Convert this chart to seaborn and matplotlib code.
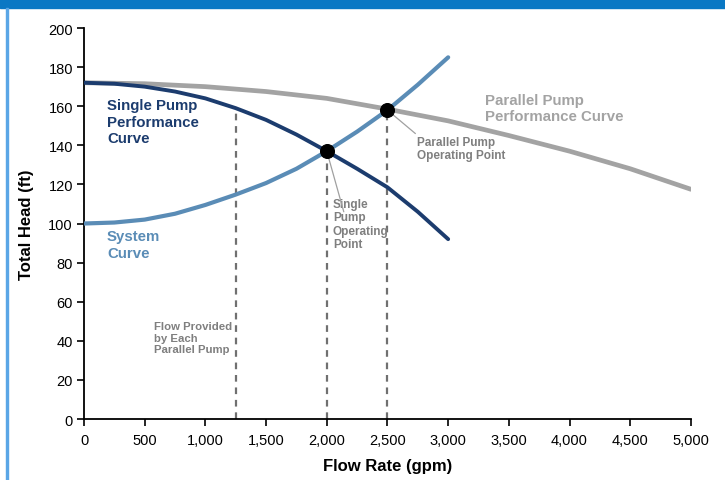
import numpy as np
import pandas as pd
import matplotlib.pyplot as plt
import matplotlib.patches as mpatches
from matplotlib.ticker import FuncFormatter
import seaborn as sns

# krive ocitane sa slike (protok u gpm, visina u ft)
flow_single = [0, 250, 500, 750, 1000, 1250, 1500, 1750, 2000, 2250, 2500, 2750, 3000]
head_single = [172, 171.5, 170, 167.5, 164, 159, 153, 145.5, 137, 128, 118.5, 106, 92]

flow_system = [0, 250, 500, 750, 1000, 1250, 1500, 1750, 2000, 2250, 2500, 2750, 3000]
head_system = [100, 100.5, 102, 105, 109.5, 114.8, 120.7, 128, 137, 147, 158, 171, 185]

flow_parallel = [0, 500, 1000, 1500, 2000, 2500, 3000, 3500, 4000, 4500, 5000]
head_parallel = [172, 171.5, 170, 167.5, 164, 158.5, 152.5, 145, 137, 128, 117.5]

# radne tacke i vertikalne isprekidane linije
op_flow = [2000, 2500]
op_head = [137, 158]
guide_flow = [1250, 2000, 2500]
guide_head = [159, 137, 158]

x_ticks = [0, 500, 1000, 1500, 2000, 2500, 3000, 3500, 4000, 4500, 5000]
y_ticks = [0, 20, 40, 60, 80, 100, 120, 140, 160, 180, 200]

NAVY = '#1c3c6e'
STEEL = '#5a8cb6'
GRAY = '#a3a3a3'
LABEL_GRAY = '#7f7f7f'

sns.set_style('ticks')
plt.rcParams['font.family'] = ['Liberation Sans', 'DejaVu Sans']

fig = plt.figure(figsize=(7.25, 4.81), dpi=100)
ax = fig.add_axes([0.1159, 0.1268, 0.953 - 0.1159, 0.9397 - 0.1268])

# okvir slike
fig.patches.append(mpatches.Rectangle((0, 0.982), 1, 0.018, transform=fig.transFigure,
                                      color='#0a78c4', zorder=0))
fig.patches.append(mpatches.Rectangle((0.0083, 0), 0.0028, 0.982, transform=fig.transFigure,
                                      color='#5aa6e6', zorder=0))

for fx, fh in zip(guide_flow, guide_head):
    ax.plot([fx, fx], [0, fh], color='#707070', lw=1.6, ls=(0, (3, 2.6)), zorder=1)

df_par = pd.DataFrame({'flow': flow_parallel, 'head': head_parallel})
df_sys = pd.DataFrame({'flow': flow_system, 'head': head_system})
df_sgl = pd.DataFrame({'flow': flow_single, 'head': head_single})

sns.lineplot(data=df_par, x='flow', y='head', color=GRAY, lw=3.4, ax=ax, zorder=2)
sns.lineplot(data=df_sys, x='flow', y='head', color=STEEL, lw=3.0, ax=ax, zorder=3)
sns.lineplot(data=df_sgl, x='flow', y='head', color=NAVY, lw=2.8, ax=ax, zorder=4)

# linije do oznaka
ax.plot([op_flow[0], 2140], [op_head[0], 106], color='#a0a0a0', lw=0.9, zorder=5)
ax.plot([op_flow[1], 2730], [op_head[1], 146], color='#a0a0a0', lw=0.9, zorder=5)

sns.scatterplot(x=op_flow, y=op_head, color='black', s=100, edgecolor='black', ax=ax, zorder=6)

ax.set_xlim(0, 5000)
ax.set_ylim(0, 200)
ax.set_xticks(x_ticks)
ax.set_yticks(y_ticks)
ax.xaxis.set_major_formatter(FuncFormatter(lambda v, p: f'{int(v):,}'))
ax.tick_params(axis='both', labelsize=10.5, length=5, width=1.2, colors='black', pad=3)
ax.tick_params(axis='x', pad=5)
for s in ['left', 'bottom']:
    ax.spines[s].set_linewidth(1.3)
    ax.spines[s].set_color('black')
sns.despine(ax=ax)

ax.set_xlabel('Flow Rate (gpm)', fontsize=12, fontweight='bold', labelpad=8, color='black')
ax.set_ylabel('Total Head (ft)', fontsize=12, fontweight='bold', labelpad=10, color='black')

ax.text(190, 164, 'Single Pump\nPerformance\nCurve', color=NAVY, fontsize=10.8,
        fontweight='bold', va='top', ha='left', linespacing=1.2)
ax.text(190, 97, 'System\nCurve', color=STEEL, fontsize=10.8,
        fontweight='bold', va='top', ha='left', linespacing=1.2)
ax.text(3300, 167, 'Parallel Pump\nPerformance Curve', color=GRAY, fontsize=10.8,
        fontweight='bold', va='top', ha='left', linespacing=1.2)
ax.text(2740, 145, 'Parallel Pump\nOperating Point', color=LABEL_GRAY, fontsize=8.5,
        fontweight='bold', va='top', ha='left', linespacing=1.15)
ax.text(2050, 113, 'Single\nPump\nOperating\nPoint', color=LABEL_GRAY, fontsize=8.5,
        fontweight='bold', va='top', ha='left', linespacing=1.15)
ax.text(575, 50, 'Flow Provided\nby Each\nParallel Pump', color=LABEL_GRAY, fontsize=8.2,
        fontweight='bold', va='top', ha='left', multialignment='left', linespacing=1.2)

fig.savefig('out.png', dpi=100)
